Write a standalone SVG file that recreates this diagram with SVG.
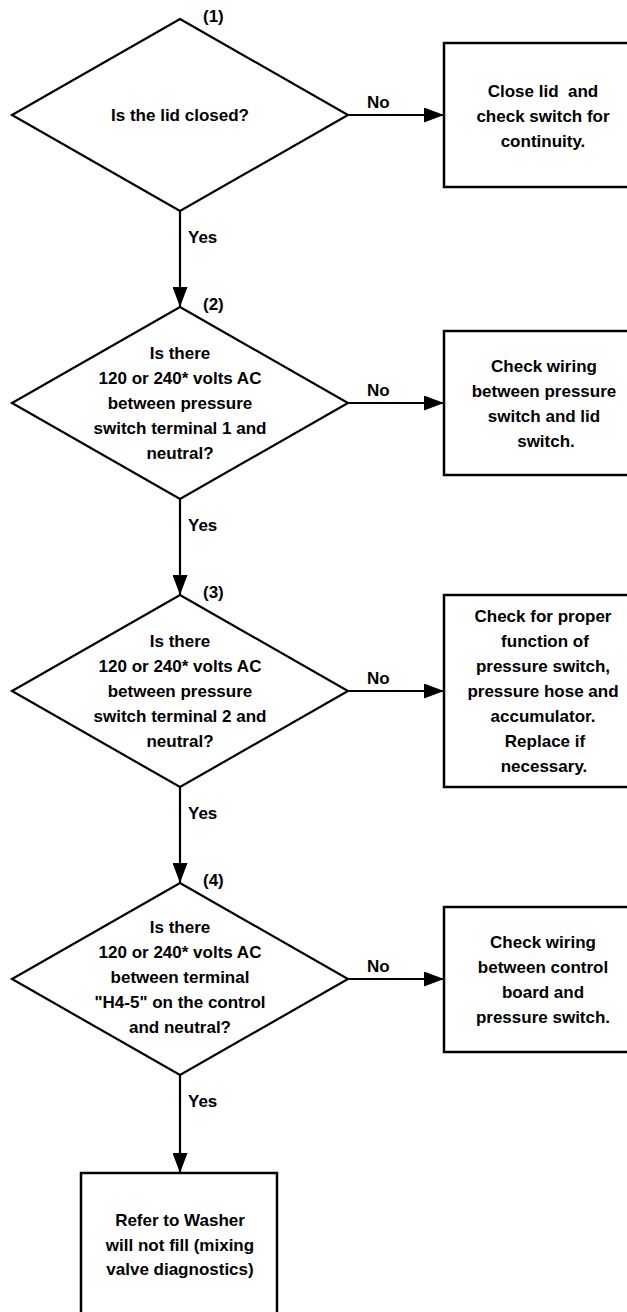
<svg xmlns="http://www.w3.org/2000/svg" width="627" height="1312" viewBox="0 0 627 1312">
<style>
  .shape { fill: #ffffff; stroke: #000000; stroke-width: 2.2; }
  .box { fill: #ffffff; stroke: #000000; stroke-width: 2.5; }
  .conn { fill: none; stroke: #000000; stroke-width: 2.2; }
  text { font-family: "Liberation Sans", Arial, Helvetica, sans-serif; font-weight: bold; font-size: 17px; fill: #000000; }
  .c { text-anchor: middle; }
</style>
<defs>
  <marker id="arrow" markerUnits="userSpaceOnUse" markerWidth="21" markerHeight="15" refX="20" refY="7.5" orient="auto">
    <path d="M0,0 L20,7.5 L0,15 z" fill="#000000"/>
  </marker>
</defs>
<rect width="627" height="1312" fill="#ffffff"/>

<g id="connectors">
  <line class="conn" x1="348" y1="115" x2="444" y2="115" marker-end="url(#arrow)"/>
  <line class="conn" x1="180" y1="211" x2="180" y2="307" marker-end="url(#arrow)"/>
  <line class="conn" x1="348" y1="403" x2="444" y2="403" marker-end="url(#arrow)"/>
  <line class="conn" x1="180" y1="499" x2="180" y2="595" marker-end="url(#arrow)"/>
  <line class="conn" x1="348" y1="691" x2="444" y2="691" marker-end="url(#arrow)"/>
  <line class="conn" x1="180" y1="787" x2="180" y2="883" marker-end="url(#arrow)"/>
  <line class="conn" x1="348" y1="979" x2="444" y2="979" marker-end="url(#arrow)"/>
  <line class="conn" x1="180" y1="1075" x2="180" y2="1173" marker-end="url(#arrow)"/>
  <text x="367" y="108">No</text>
  <text x="367" y="396">No</text>
  <text x="367" y="684">No</text>
  <text x="367" y="972">No</text>
  <text x="188" y="243">Yes</text>
  <text x="188" y="531">Yes</text>
  <text x="188" y="819">Yes</text>
  <text x="188" y="1107">Yes</text>
</g>

<g id="d1">
  <polygon class="shape" points="180,19 348,115 180,211 12,115"/>
  <text x="203" y="22">(1)</text>
  <text class="c" x="180" y="121">Is the lid closed?</text>
</g>

<g id="b1">
  <rect class="box" x="444" y="43" width="196" height="144"/>
  <text class="c" x="543" y="97" xml:space="preserve">Close lid  and</text>
  <text class="c" x="543" y="122">check switch for</text>
  <text class="c" x="543" y="147">continuity.</text>
</g>

<g id="d2">
  <polygon class="shape" points="180,307 348,403 180,499 12,403"/>
  <text x="203" y="310">(2)</text>
  <text class="c" x="180" y="359">Is there</text>
  <text class="c" x="180" y="384">120 or 240* volts AC</text>
  <text class="c" x="180" y="409">between pressure</text>
  <text class="c" x="180" y="434">switch terminal 1 and</text>
  <text class="c" x="180" y="459">neutral?</text>
</g>

<g id="b2">
  <rect class="box" x="444" y="331" width="196" height="144"/>
  <text class="c" x="544" y="372">Check wiring</text>
  <text class="c" x="544" y="397">between pressure</text>
  <text class="c" x="544" y="422">switch and lid</text>
  <text class="c" x="546" y="447">switch.</text>
</g>

<g id="d3">
  <polygon class="shape" points="180,595 348,691 180,787 12,691"/>
  <text x="203" y="598">(3)</text>
  <text class="c" x="180" y="647">Is there</text>
  <text class="c" x="180" y="672">120 or 240* volts AC</text>
  <text class="c" x="180" y="697">between pressure</text>
  <text class="c" x="180" y="722">switch terminal 2 and</text>
  <text class="c" x="180" y="747">neutral?</text>
</g>

<g id="b3">
  <rect class="box" x="444" y="595" width="196" height="192"/>
  <text class="c" x="543" y="622">Check for proper</text>
  <text class="c" x="545" y="647">function of</text>
  <text class="c" x="543" y="672">pressure switch,</text>
  <text class="c" x="543" y="697">pressure hose and</text>
  <text class="c" x="543" y="722">accumulator.</text>
  <text class="c" x="545" y="747">Replace if</text>
  <text class="c" x="544" y="772">necessary.</text>
</g>

<g id="d4">
  <polygon class="shape" points="180,883 348,979 180,1075 12,979"/>
  <text x="203" y="886">(4)</text>
  <text class="c" x="180" y="933">Is there</text>
  <text class="c" x="180" y="958">120 or 240* volts AC</text>
  <text class="c" x="180" y="983">between terminal</text>
  <text class="c" x="180" y="1008">"H4-5" on the control</text>
  <text class="c" x="180" y="1033">and neutral?</text>
</g>

<g id="b4">
  <rect class="box" x="444" y="907" width="196" height="145"/>
  <text class="c" x="543" y="948">Check wiring</text>
  <text class="c" x="543" y="973">between control</text>
  <text class="c" x="543" y="998">board and</text>
  <text class="c" x="543" y="1023">pressure switch.</text>
</g>

<g id="b5">
  <rect class="box" x="81" y="1173" width="196" height="144"/>
  <text class="c" x="180" y="1226">Refer to Washer</text>
  <text class="c" x="180" y="1251">will not fill (mixing</text>
  <text class="c" x="180" y="1275">valve diagnostics)</text>
</g>
</svg>
